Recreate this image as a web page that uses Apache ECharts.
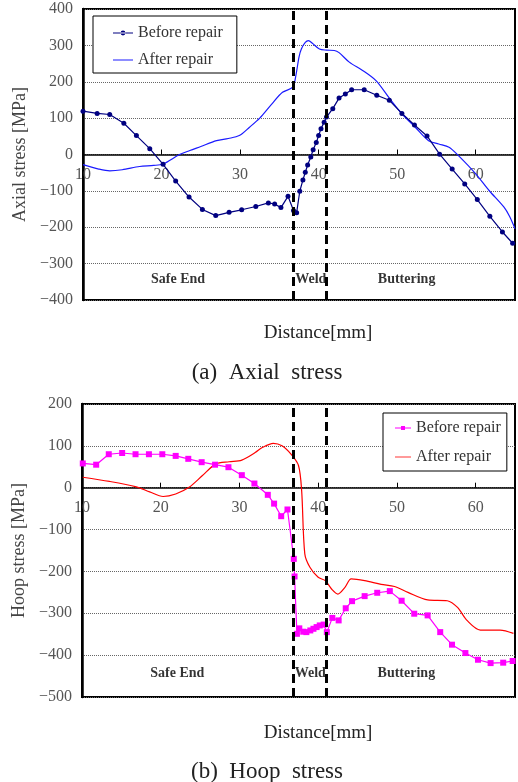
<!DOCTYPE html>
<html>
<head>
<meta charset="utf-8">
<script src="https://cdn.jsdelivr.net/npm/echarts@6/dist/echarts.min.js"></script>
<style>
  html, body { margin: 0; padding: 0; background: #fff; }
  #main { width: 518px; height: 782px; }
</style>
</head>
<body>
<div id="main"></div>
<script>
// distance [mm], stress [MPa]
var axialBefore = [[10,119],[11.8,113],[13.4,110],[15.2,86],[16.8,52],[18.5,16],[20.2,-27],[21.8,-73],[23.5,-117],
  [25.2,-151],[26.9,-168],[28.6,-159],[30.2,-152],[32.0,-143],[33.6,-133],[34.4,-136],[35.2,-146],[36.1,-115],
  [36.8,-154],[37.2,-160],[37.6,-101],[38.0,-70],[38.3,-49],[38.6,-29],[39.0,-7],[39.3,13],[39.7,33],[40.0,52],
  [40.3,71],[40.7,89],[41.0,103],[41.8,126],[42.6,155],[43.4,166],[44.2,178],[45.8,178],[47.4,163],[49.0,149],
  [50.6,113],[52.2,81],[53.8,51],[55.4,1],[57.0,-40],[58.6,-81],[60.2,-124],[61.8,-170],[63.4,-213],[64.7,-244]];
var axialAfter = [[10,-28],[12,-40],[13.4,-45],[15,-42],[17.2,-33],[19,-30],[20.2,-26],[22.3,0],[23.6,11],[25,22],
  [27,38],[28.5,44],[29.9,52],[31.2,75],[32.5,100],[34,138],[35.4,171],[36.7,185],[37.1,217],[37.5,268],[37.8,290],
  [38.3,308],[38.7,313],[39.2,306],[40.1,290],[41.0,287],[42.0,286],[42.6,280],[43.9,254],[45.6,231],[47.3,203],
  [49.0,155],[50.6,112],[52.3,75],[54.0,38],[55.3,29],[56.6,20],[57.8,-3],[60.0,-53],[61.7,-99],[63.6,-145],
  [64.3,-170],[65,-204]];
var hoopBefore = [[10.1,58],[11.8,55],[13.4,80],[15.1,83],[16.8,80],[18.5,80],[20.2,80],[21.9,76],[23.5,69],[25.2,61],
  [26.9,55],[28.6,49],[30.3,30],[31.9,10],[33.6,-17],[34.4,-38],[35.3,-68],[36.1,-52],[36.9,-170],[37.0,-212],
  [37.3,-349],[37.6,-336],[38.1,-344],[38.5,-345],[39.0,-341],[39.4,-337],[39.8,-333],[40.2,-329],[40.7,-327],
  [41.1,-345],[41.8,-311],[42.6,-317],[43.5,-288],[44.3,-271],[45.9,-259],[47.5,-251],[49.1,-247],[50.6,-270],
  [52.2,-301],[53.9,-305],[55.5,-345],[57.0,-375],[58.7,-395],[60.3,-411],[61.9,-419],[63.5,-418],[64.7,-414]];
var hoopAfter = [[10.1,25],[13.5,15],[16.9,2],[18.6,-10],[20.3,-21],[21.9,-15],[23.6,1],[25.3,29],[27.0,57],[28.7,62],
  [30.3,66],[32.0,84],[32.9,96],[34.3,106],[35.4,100],[36.6,79],[37.5,53],[37.9,-7],[38.3,-158],[38.95,-190],
  [40.0,-214],[40.9,-222],[41.7,-242],[42.5,-254],[43.4,-238],[44.2,-218],[45.9,-222],[48.0,-231],[49.7,-236],
  [51.4,-250],[53.9,-268],[56.4,-270],[57.7,-286],[58.9,-317],[60.6,-340],[63.1,-340],[64.8,-348]];

var weldLines = [36.8, 41.0];
var zoneNames = ['Safe End', 'Weld', 'Buttering'];
var zoneX = [22.1, 39.0, 51.2];
var axialZoneY = -344;
var hoopZoneY = -444;
var legendText = { axB: 'Before repair', axA: 'After repair', hpB: 'Before repair', hpA: 'After repair' };

var SERIF = '"Liberation Serif", "DejaVu Serif", serif';
// legend icons: plain line, line with dot, line with square
var ICON_LINE = 'path://M0,6.5 H20 V7.5 H0 Z';
var ICON_DOT = 'path://M0,6.5 H20 V7.5 H0 Z M7.6,7 a2.4,2.4 0 1,0 4.8,0 a2.4,2.4 0 1,0 -4.8,0 Z';
var ICON_SQ = 'path://M0,6.5 H20 V7.5 H0 Z M7.5,4.5 H12.5 V9.5 H7.5 Z';

var myChart = echarts.init(document.getElementById('main'));

function minus(v) { return v < 0 ? '\u2212' + (-v) : '' + v; }

function xAxisOf(i, offset) {
  return {
    gridIndex: i, type: 'value', min: 10, max: 65, interval: 10,
    position: 'bottom', offset: offset,
    axisLine: { onZero: false, lineStyle: { color: '#000', width: 1.5 } },
    axisTick: { inside: true, length: 5, lineStyle: { color: '#000' } },
    axisLabel: {
      margin: 12, color: '#555', fontFamily: SERIF, fontSize: 16,
      formatter: function (v) { return v % 10 === 0 ? v : ''; }
    },
    splitLine: { show: false }
  };
}

function yAxisOf(i, min, max, title) {
  return {
    gridIndex: i, type: 'value', min: min, max: max, interval: 100,
    axisLine: { show: true, onZero: false, lineStyle: { color: '#000', width: 2.5 } },
    axisTick: { show: false },
    axisLabel: { margin: 10, color: '#555', fontFamily: SERIF, fontSize: 16, formatter: minus },
    splitLine: { lineStyle: { type: 'dotted', color: '#666', width: 1 } },
    name: title, nameLocation: 'middle', nameGap: 44,
    nameTextStyle: { fontFamily: SERIF, fontSize: 18, color: '#444' }
  };
}

function weldMark() {
  return {
    silent: true, symbol: ['none', 'none'],
    label: { show: false },
    lineStyle: { color: '#000', width: 3, type: [9, 5] },
    data: weldLines.map(function (v) { return { xAxis: v }; })
  };
}

function zoneSeries(i, y) {
  return {
    type: 'scatter', xAxisIndex: i, yAxisIndex: i, symbolSize: 0, silent: true, z: 10,
    label: {
      show: true, position: 'inside', formatter: '{b}',
      fontFamily: SERIF, fontWeight: 'bold', fontSize: 14, color: '#000'
    },
    data: zoneNames.map(function (n, k) { return { name: n, value: [zoneX[k], y] }; })
  };
}

function legendOf(items, left, top, padding, gap, width) {
  return {
    data: items, orient: 'vertical', left: left, top: top,
    padding: padding, itemGap: gap, itemWidth: width, itemHeight: 14,
    borderColor: '#000', borderWidth: 1, backgroundColor: '#fff',
    formatter: function (n) { return legendText[n]; },
    textStyle: { fontFamily: SERIF, fontSize: 16, color: '#333' }
  };
}

var option = {
  animation: false,
  grid: [
    { left: 83, top: 9, width: 433, height: 291, show: true, borderColor: '#000', borderWidth: 2 },
    { left: 82, top: 404, width: 435, height: 293, show: true, borderColor: '#000', borderWidth: 2 }
  ],
  // x axes are shifted up to the zero line of each chart
  xAxis: [xAxisOf(0, -145.5), xAxisOf(1, -209.3)],
  yAxis: [yAxisOf(0, -400, 400, 'Axial stress [MPa]'), yAxisOf(1, -500, 200, 'Hoop stress [MPa]')],
  legend: [
    legendOf([{ name: 'axB', icon: ICON_DOT }, { name: 'axA', icon: ICON_LINE }], 93, 16, [9, 14, 5, 20], 11, 20),
    legendOf([{ name: 'hpB', icon: ICON_SQ }, { name: 'hpA', icon: ICON_LINE }], 383, 413, [7, 6, 6, 12], 13, 16)
  ],
  series: [
    {
      name: 'axA', type: 'line', xAxisIndex: 0, yAxisIndex: 0, data: axialAfter,
      smooth: 0.3, symbol: 'none', lineStyle: { color: '#1a1aff', width: 1.2 }, itemStyle: { color: '#1a1aff' },
      markLine: weldMark()
    },
    {
      name: 'axB', type: 'line', xAxisIndex: 0, yAxisIndex: 0, data: axialBefore,
      symbol: 'circle', symbolSize: 5, lineStyle: { color: '#000080', width: 1.2 }, itemStyle: { color: '#000080' }
    },
    {
      name: 'hpA', type: 'line', xAxisIndex: 1, yAxisIndex: 1, data: hoopAfter,
      smooth: 0.3, symbol: 'none', lineStyle: { color: '#ff0000', width: 1.2 }, itemStyle: { color: '#ff0000' },
      markLine: weldMark()
    },
    {
      name: 'hpB', type: 'line', xAxisIndex: 1, yAxisIndex: 1, data: hoopBefore,
      symbol: 'rect', symbolSize: 6, lineStyle: { color: '#ff00ff', width: 1.2 }, itemStyle: { color: '#ff00ff' }
    },
    zoneSeries(0, axialZoneY),
    zoneSeries(1, hoopZoneY)
  ],
  graphic: [
    { type: 'text', x: 318, y: 333, style: { text: 'Distance[mm]', font: '19px ' + SERIF, fill: '#222', align: 'center', verticalAlign: 'middle' } },
    { type: 'text', x: 267, y: 373, style: { text: '(a)  Axial  stress', font: '23px ' + SERIF, fill: '#222', align: 'center', verticalAlign: 'middle' } },
    { type: 'text', x: 318, y: 733, style: { text: 'Distance[mm]', font: '19px ' + SERIF, fill: '#222', align: 'center', verticalAlign: 'middle' } },
    { type: 'text', x: 267, y: 772, style: { text: '(b)  Hoop  stress', font: '23px ' + SERIF, fill: '#222', align: 'center', verticalAlign: 'middle' } }
  ]
};
myChart.setOption(option);
</script>
</body>
</html>
